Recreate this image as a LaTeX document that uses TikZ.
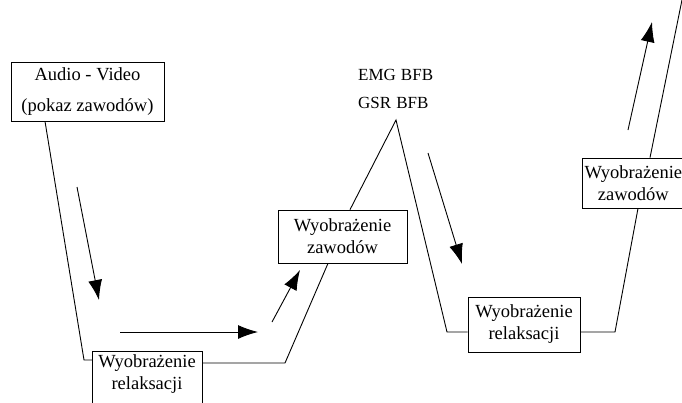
\documentclass[tikz,border=0pt]{standalone}
\usepackage{fontspec}
\setmainfont{Liberation Serif}
\usetikzlibrary{arrows.meta}
\begin{document}
\begin{tikzpicture}[x=1pt,y=-1pt,
  box/.style={draw, line width=0.7pt, inner sep=0pt, align=center,
    font=\fontsize{18.5}{22}\selectfont},
  txt/.style={inner sep=0pt, align=center, font=\fontsize{18.5}{22}\selectfont},
  conn/.style={line width=0.9pt},
  arr/.style={-{Latex[length=20pt,width=14pt]}, line width=0.9pt}]
\useasboundingbox (0,0) rectangle (682,402);
\clip (0,0) rectangle (682,402);
% boxes
\node[box, minimum width=153pt, minimum height=59pt, font=\fontsize{18.5}{31}\selectfont] (b1) at (87.5,91.5) {Audio - Video\\(pokaz zawodów)};
\node[box, minimum width=110pt, minimum height=70pt, anchor=north west] (b2) at (92,351) {};
\node[txt] (t2) at (147,374) {Wyobrażenie\\relaksacji};
\node[box, minimum width=129pt, minimum height=53pt] (b3) at (342.5,236.5) {Wyobrażenie\\zawodów};
\node[box, minimum width=112pt, minimum height=55pt] (b5) at (524,324.5) {Wyobrażenie\\relaksacji};
\node[box, minimum width=102pt, minimum height=50pt, anchor=west] (b6) at (582,183) {Wyobrażenie\\zawodów};
\node[inner sep=0pt, align=left, anchor=north west, font=\fontsize{17}{28}\selectfont] (emg) at (358,69) {EMG\hspace{5pt}BFB\\GSR\hspace{5pt}BFB};
% path coordinates
\coordinate (p1) at (84,360);
\coordinate (p2) at (285,363);
\coordinate (peak) at (396,120);
\coordinate (p3) at (447,332);
\coordinate (p4) at (615,332);
\coordinate (top) at (684,-10);
% connectors
\draw[conn] (b1.south -| 45,0) -- (p1) -- (p1 -| b2.west);
\draw[conn] (b2.east |- p2) -- (p2) -- (b3.south -| 328,0);
\draw[conn] (b3.north -| 350,0) -- (peak) -- (p3) -- (p3 -| b5.west);
\draw[conn] (b5.east |- p4) -- (p4) -- (b6.south -| 638,0);
\draw[conn] (b6.north -| 650,0) -- (top);
% arrows
\coordinate (a1s) at (77,187); \coordinate (a1e) at (99,300);
\coordinate (a2s) at (120,332); \coordinate (a2e) at (258,332);
\coordinate (a3s) at (272,322); \coordinate (a3e) at (300,270);
\coordinate (a4s) at (428,153); \coordinate (a4e) at (462,264);
\coordinate (a5s) at (628,130); \coordinate (a5e) at (652,22);
\draw[arr] (a1s) -- (a1e);
\draw[arr] (a2s) -- (a2e);
\draw[arr] (a3s) -- (a3e);
\draw[arr] (a4s) -- (a4e);
\draw[arr] (a5s) -- (a5e);
\end{tikzpicture}
\end{document}
